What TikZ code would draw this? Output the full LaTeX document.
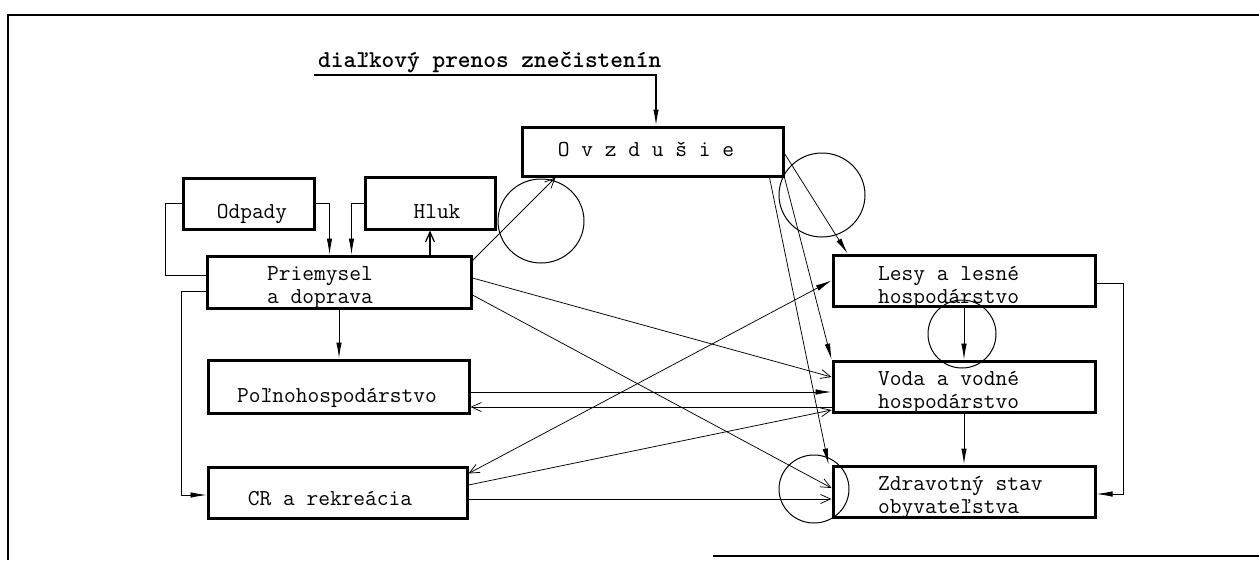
\documentclass[tikz,border=0pt]{standalone}
\usepackage{fontspec}
\usetikzlibrary{arrows.meta,calc}
\newcommand\twfont{\ttfamily\addfontfeatures{LetterSpace=4}\fontsize{22.8}{22.5}\selectfont}
\newcommand\twbold{\ttfamily\bfseries\fontsize{24.2}{26}\selectfont}
\begin{document}
\begin{tikzpicture}[x=1pt,y=-1pt,
  box/.style={draw, line width=3pt, rectangle, inner sep=0pt},
  lblw/.style={inner sep=0pt, font=\twfont, anchor=base west, align=left},
  lblc/.style={inner sep=0pt, font=\twfont, anchor=base},
  conn/.style={line width=0.75pt},
  fa/.style={conn, -{Latex[length=16pt,width=5.5pt]}},
  ba/.style={conn, -{Straight Barb[length=10pt,width=9pt]}},
  ring/.style={line width=1pt}]
\useasboundingbox (0,0) rectangle (1259,560);
% frame
\draw[line width=1.3pt] (1259,15) -- (8,15) -- (8,560);
\draw[line width=1.3pt] (713,556) -- (1259,556);

% boxes
\node[box, minimum width=261pt, minimum height=49pt] (ovz) at (652.5,151.5) {};
\node[box, minimum width=131pt, minimum height=51pt] (odp) at (248.5,203.5) {};
\node[box, minimum width=130pt, minimum height=52pt] (hluk) at (430,203) {};
\node[box, minimum width=264pt, minimum height=52pt] (prie) at (339,282) {};
\node[box, minimum width=261pt, minimum height=53pt] (pol) at (338.5,386.5) {};
\node[box, minimum width=259pt, minimum height=51pt] (cr) at (337.5,492.5) {};
\node[box, minimum width=262pt, minimum height=51pt] (les) at (964,280.5) {};
\node[box, minimum width=262pt, minimum height=51pt] (voda) at (964,386.5) {};
\node[box, minimum width=262pt, minimum height=51pt] (zdr) at (964,491.5) {};

% texts
\node[inner sep=0pt, font=\twbold, anchor=base west] (dial) at (318,67) {diaľkový prenos znečistenín};
\node[lblc] (ovzt) at (646,156) {O v z d u š i e};
\node[lblc] (odpt) at (252,218) {Odpady};
\node[lblc] (hlukt) at (437,218) {Hluk};
\node[lblw] (priet) at (267,303) {Priemysel\\a doprava};
\node[lblc] (polt) at (337,402) {Poľnohospodárstvo};
\node[lblc] (crt) at (330,505) {CR a rekreácia};
\node[lblw] (lest) at (878,303) {Lesy a lesné\\hospodárstvo};
\node[lblw] (vodat) at (878,408) {Voda a vodné\\hospodárstvo};
\node[lblw] (zdrt) at (878,513) {Zdravotný stav\\obyvateľstva};

% rings
\draw[ring] (541,221) ellipse [x radius=43pt, y radius=42pt];
\draw[ring] (822,195) ellipse [x radius=43pt, y radius=42pt];
\draw[ring] (962,334) ellipse [x radius=34pt, y radius=34pt];
\draw[ring] (814,489) ellipse [x radius=35pt, y radius=34pt];

% connectors
\coordinate (ul) at (314,75);
\draw[fa, line width=1.1pt] (ul) -| ($(ovz.north)+(3.5,0)$);
\draw[fa] (odp.east) -| ($(prie.north west)+(124,0)$);
\draw[fa] (hluk.west) -| ($(prie.north west)+(146,0)$);
\draw[ba, line width=1.3pt] (hluk.south |- prie.north) -- (hluk.south);
\draw[conn] (odp.west) -- ++(-16,0) |- ($(prie.west)+(0,-7)$);
\draw[fa] ($(prie.west)+(0,9)$) -- ++(-24,0) |- ($(cr.west)+(0,2.5)$);
\draw[fa, line width=1pt] (prie.south) -- (prie.south |- pol.north);
\draw[ba] ($(prie.north east)+(0,6)$) -- ($(ovz.south west)+(35,0)$);
\draw[fa] ($(ovz.north east)+(0,28)$) -- ($(les.north west)+(16,0)$);
\draw[fa] (ovz.south east) -- (voda.north west);
\draw[fa] ($(ovz.south east)+(-15,0)$) -- ($(zdr.north west)+(-3,0)$);
\draw[fa] (les.south) -- (voda.north);
\draw[fa, line width=1pt] (voda.south) -- (zdr.north);
\draw[fa] ($(les.east)+(0,2.5)$) -- ++(27,0) |- ($(zdr.east)+(0,2.5)$);
\draw[ba] ($(prie.east)+(0,-4)$) -- ($(voda.west)+(0,-9.5)$);
\draw[ba] ($(prie.east)+(0,13)$) -- ($(zdr.west)+(0,-3.5)$);
\draw[ba] ($(cr.east)+(0,-7.5)$) -- ($(voda.west)+(0,23.5)$);
\draw[conn, {Straight Barb[length=10pt,width=9pt]}-{Latex[length=16pt,width=6pt]}] ($(cr.north east)+(0,8)$) -- (les.west);
\draw[fa] ($(pol.east)+(0,5.5)$) -- ($(voda.west)+(0,5.5)$);
\draw[ba] ($(voda.west)+(0,20.5)$) -- ($(pol.east)+(0,20.5)$);
\draw[ba] ($(cr.east)+(0,6.5)$) -- ($(zdr.west)+(0,7.5)$);
\end{tikzpicture}
\end{document}
